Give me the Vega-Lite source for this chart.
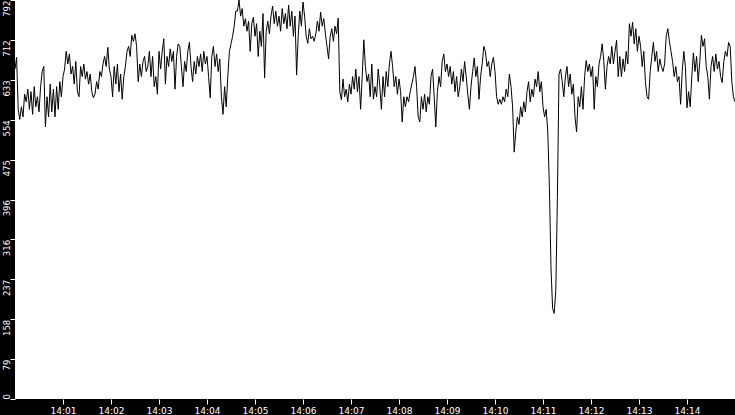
{
"$schema": "https://vega.github.io/schema/vega-lite/v6.json",
"width": 720, "height": 399,
"autosize": {"type": "none"},
"padding": {"left": 15, "top": 0, "right": 0, "bottom": 16},
"background": "black",
"view": {"fill": "white", "stroke": null},
"data": {"format": {"parse": {"t": "date:'%H:%M:%S'"}}, "values": [
{"t":"14:00:00","v":655},{"t":"14:00:02","v":678},{"t":"14:00:04","v":575},{"t":"14:00:06","v":555},{"t":"14:00:08","v":580},{"t":"14:00:10","v":560},{"t":"14:00:12","v":605},{"t":"14:00:14","v":590},{"t":"14:00:16","v":615},{"t":"14:00:18","v":575},{"t":"14:00:20","v":610},{"t":"14:00:22","v":565},{"t":"14:00:24","v":620},{"t":"14:00:26","v":580},{"t":"14:00:28","v":600},{"t":"14:00:30","v":570},{"t":"14:00:32","v":620},{"t":"14:00:34","v":650},{"t":"14:00:36","v":660},{"t":"14:00:38","v":540},{"t":"14:00:40","v":600},{"t":"14:00:42","v":560},{"t":"14:00:44","v":625},{"t":"14:00:46","v":570},{"t":"14:00:48","v":615},{"t":"14:00:50","v":560},{"t":"14:00:52","v":620},{"t":"14:00:54","v":575},{"t":"14:00:56","v":630},{"t":"14:00:58","v":600},
{"t":"14:01:00","v":640},{"t":"14:01:02","v":655},{"t":"14:01:04","v":690},{"t":"14:01:06","v":665},{"t":"14:01:08","v":685},{"t":"14:01:10","v":645},{"t":"14:01:12","v":660},{"t":"14:01:14","v":625},{"t":"14:01:16","v":670},{"t":"14:01:18","v":610},{"t":"14:01:20","v":600},{"t":"14:01:22","v":660},{"t":"14:01:24","v":640},{"t":"14:01:26","v":665},{"t":"14:01:28","v":635},{"t":"14:01:30","v":650},{"t":"14:01:32","v":625},{"t":"14:01:34","v":645},{"t":"14:01:36","v":610},{"t":"14:01:38","v":598},{"t":"14:01:40","v":605},{"t":"14:01:42","v":630},{"t":"14:01:44","v":615},{"t":"14:01:46","v":650},{"t":"14:01:48","v":640},{"t":"14:01:50","v":665},{"t":"14:01:52","v":680},{"t":"14:01:54","v":660},{"t":"14:01:56","v":698},{"t":"14:01:58","v":655},
{"t":"14:02:00","v":640},{"t":"14:02:02","v":600},{"t":"14:02:04","v":660},{"t":"14:02:06","v":625},{"t":"14:02:08","v":665},{"t":"14:02:10","v":610},{"t":"14:02:12","v":645},{"t":"14:02:14","v":595},{"t":"14:02:16","v":640},{"t":"14:02:18","v":660},{"t":"14:02:20","v":690},{"t":"14:02:22","v":700},{"t":"14:02:24","v":680},{"t":"14:02:26","v":722},{"t":"14:02:28","v":710},{"t":"14:02:30","v":725},{"t":"14:02:32","v":700},{"t":"14:02:34","v":630},{"t":"14:02:36","v":665},{"t":"14:02:38","v":640},{"t":"14:02:40","v":670},{"t":"14:02:42","v":680},{"t":"14:02:44","v":650},{"t":"14:02:46","v":660},{"t":"14:02:48","v":690},{"t":"14:02:50","v":640},{"t":"14:02:52","v":680},{"t":"14:02:54","v":620},{"t":"14:02:56","v":640},{"t":"14:02:58","v":605},
{"t":"14:03:00","v":690},{"t":"14:03:02","v":655},{"t":"14:03:04","v":690},{"t":"14:03:06","v":715},{"t":"14:03:08","v":625},{"t":"14:03:10","v":680},{"t":"14:03:12","v":660},{"t":"14:03:14","v":695},{"t":"14:03:16","v":670},{"t":"14:03:18","v":690},{"t":"14:03:20","v":615},{"t":"14:03:22","v":680},{"t":"14:03:24","v":705},{"t":"14:03:26","v":700},{"t":"14:03:28","v":660},{"t":"14:03:30","v":620},{"t":"14:03:32","v":670},{"t":"14:03:34","v":650},{"t":"14:03:36","v":690},{"t":"14:03:38","v":708},{"t":"14:03:40","v":660},{"t":"14:03:42","v":630},{"t":"14:03:44","v":670},{"t":"14:03:46","v":645},{"t":"14:03:48","v":680},{"t":"14:03:50","v":660},{"t":"14:03:52","v":685},{"t":"14:03:54","v":650},{"t":"14:03:56","v":690},{"t":"14:03:58","v":665},
{"t":"14:04:00","v":680},{"t":"14:04:02","v":640},{"t":"14:04:04","v":598},{"t":"14:04:06","v":680},{"t":"14:04:08","v":700},{"t":"14:04:10","v":660},{"t":"14:04:12","v":685},{"t":"14:04:14","v":650},{"t":"14:04:16","v":675},{"t":"14:04:18","v":600},{"t":"14:04:20","v":565},{"t":"14:04:22","v":620},{"t":"14:04:24","v":580},{"t":"14:04:26","v":640},{"t":"14:04:28","v":690},{"t":"14:04:30","v":705},{"t":"14:04:32","v":720},{"t":"14:04:34","v":740},{"t":"14:04:36","v":770},{"t":"14:04:38","v":770},{"t":"14:04:40","v":792},{"t":"14:04:42","v":760},{"t":"14:04:44","v":775},{"t":"14:04:46","v":740},{"t":"14:04:48","v":755},{"t":"14:04:50","v":730},{"t":"14:04:52","v":750},{"t":"14:04:54","v":690},{"t":"14:04:56","v":745},{"t":"14:04:58","v":758},
{"t":"14:05:00","v":720},{"t":"14:05:02","v":745},{"t":"14:05:04","v":680},{"t":"14:05:06","v":730},{"t":"14:05:08","v":700},{"t":"14:05:10","v":765},{"t":"14:05:12","v":637},{"t":"14:05:14","v":730},{"t":"14:05:16","v":750},{"t":"14:05:18","v":725},{"t":"14:05:20","v":760},{"t":"14:05:22","v":780},{"t":"14:05:24","v":745},{"t":"14:05:26","v":770},{"t":"14:05:28","v":740},{"t":"14:05:30","v":760},{"t":"14:05:32","v":730},{"t":"14:05:34","v":775},{"t":"14:05:36","v":745},{"t":"14:05:38","v":765},{"t":"14:05:40","v":735},{"t":"14:05:42","v":782},{"t":"14:05:44","v":740},{"t":"14:05:46","v":770},{"t":"14:05:48","v":720},{"t":"14:05:50","v":760},{"t":"14:05:52","v":643},{"t":"14:05:54","v":720},{"t":"14:05:56","v":770},{"t":"14:05:58","v":740},
{"t":"14:06:00","v":788},{"t":"14:06:02","v":760},{"t":"14:06:04","v":720},{"t":"14:06:06","v":706},{"t":"14:06:08","v":735},{"t":"14:06:10","v":715},{"t":"14:06:12","v":720},{"t":"14:06:14","v":710},{"t":"14:06:16","v":725},{"t":"14:06:18","v":750},{"t":"14:06:20","v":730},{"t":"14:06:22","v":768},{"t":"14:06:24","v":740},{"t":"14:06:26","v":755},{"t":"14:06:28","v":725},{"t":"14:06:30","v":700},{"t":"14:06:32","v":675},{"t":"14:06:34","v":720},{"t":"14:06:36","v":735},{"t":"14:06:38","v":710},{"t":"14:06:40","v":740},{"t":"14:06:42","v":725},{"t":"14:06:44","v":756},{"t":"14:06:46","v":610},{"t":"14:06:48","v":594},{"t":"14:06:50","v":635},{"t":"14:06:52","v":600},{"t":"14:06:54","v":615},{"t":"14:06:56","v":590},{"t":"14:06:58","v":625},
{"t":"14:07:00","v":605},{"t":"14:07:02","v":640},{"t":"14:07:04","v":615},{"t":"14:07:06","v":655},{"t":"14:07:08","v":610},{"t":"14:07:10","v":640},{"t":"14:07:12","v":575},{"t":"14:07:14","v":640},{"t":"14:07:16","v":713},{"t":"14:07:18","v":660},{"t":"14:07:20","v":630},{"t":"14:07:22","v":645},{"t":"14:07:24","v":600},{"t":"14:07:26","v":665},{"t":"14:07:28","v":595},{"t":"14:07:30","v":620},{"t":"14:07:32","v":600},{"t":"14:07:34","v":655},{"t":"14:07:36","v":620},{"t":"14:07:38","v":575},{"t":"14:07:40","v":640},{"t":"14:07:42","v":600},{"t":"14:07:44","v":650},{"t":"14:07:46","v":620},{"t":"14:07:48","v":665},{"t":"14:07:50","v":690},{"t":"14:07:52","v":660},{"t":"14:07:54","v":620},{"t":"14:07:56","v":640},{"t":"14:07:58","v":605},
{"t":"14:08:00","v":635},{"t":"14:08:02","v":610},{"t":"14:08:04","v":550},{"t":"14:08:06","v":600},{"t":"14:08:08","v":580},{"t":"14:08:10","v":600},{"t":"14:08:12","v":590},{"t":"14:08:14","v":610},{"t":"14:08:16","v":625},{"t":"14:08:18","v":640},{"t":"14:08:20","v":660},{"t":"14:08:22","v":620},{"t":"14:08:24","v":560},{"t":"14:08:26","v":550},{"t":"14:08:28","v":600},{"t":"14:08:30","v":575},{"t":"14:08:32","v":605},{"t":"14:08:34","v":570},{"t":"14:08:36","v":600},{"t":"14:08:38","v":585},{"t":"14:08:40","v":640},{"t":"14:08:42","v":655},{"t":"14:08:44","v":600},{"t":"14:08:46","v":540},{"t":"14:08:48","v":610},{"t":"14:08:50","v":640},{"t":"14:08:52","v":620},{"t":"14:08:54","v":670},{"t":"14:08:56","v":685},{"t":"14:08:58","v":650},
{"t":"14:09:00","v":665},{"t":"14:09:02","v":640},{"t":"14:09:04","v":660},{"t":"14:09:06","v":625},{"t":"14:09:08","v":650},{"t":"14:09:10","v":610},{"t":"14:09:12","v":640},{"t":"14:09:14","v":600},{"t":"14:09:16","v":620},{"t":"14:09:18","v":655},{"t":"14:09:20","v":630},{"t":"14:09:22","v":670},{"t":"14:09:24","v":640},{"t":"14:09:26","v":605},{"t":"14:09:28","v":575},{"t":"14:09:30","v":620},{"t":"14:09:32","v":650},{"t":"14:09:34","v":677},{"t":"14:09:36","v":640},{"t":"14:09:38","v":660},{"t":"14:09:40","v":595},{"t":"14:09:42","v":640},{"t":"14:09:44","v":665},{"t":"14:09:46","v":700},{"t":"14:09:48","v":690},{"t":"14:09:50","v":660},{"t":"14:09:52","v":670},{"t":"14:09:54","v":640},{"t":"14:09:56","v":665},{"t":"14:09:58","v":678},
{"t":"14:10:00","v":650},{"t":"14:10:02","v":600},{"t":"14:10:04","v":585},{"t":"14:10:06","v":595},{"t":"14:10:08","v":585},{"t":"14:10:10","v":600},{"t":"14:10:12","v":590},{"t":"14:10:14","v":615},{"t":"14:10:16","v":600},{"t":"14:10:18","v":645},{"t":"14:10:20","v":620},{"t":"14:10:22","v":580},{"t":"14:10:24","v":490},{"t":"14:10:26","v":530},{"t":"14:10:28","v":560},{"t":"14:10:30","v":545},{"t":"14:10:32","v":580},{"t":"14:10:34","v":560},{"t":"14:10:36","v":590},{"t":"14:10:38","v":570},{"t":"14:10:40","v":610},{"t":"14:10:42","v":630},{"t":"14:10:44","v":590},{"t":"14:10:46","v":615},{"t":"14:10:48","v":600},{"t":"14:10:50","v":635},{"t":"14:10:52","v":620},{"t":"14:10:54","v":650},{"t":"14:10:56","v":610},{"t":"14:10:58","v":630},
{"t":"14:11:00","v":580},{"t":"14:11:02","v":560},{"t":"14:11:04","v":575},{"t":"14:11:06","v":530},{"t":"14:11:08","v":420},{"t":"14:11:10","v":260},{"t":"14:11:12","v":180},{"t":"14:11:14","v":170},{"t":"14:11:16","v":215},{"t":"14:11:18","v":400},{"t":"14:11:20","v":645},{"t":"14:11:22","v":655},{"t":"14:11:24","v":630},{"t":"14:11:26","v":600},{"t":"14:11:28","v":640},{"t":"14:11:30","v":660},{"t":"14:11:32","v":620},{"t":"14:11:34","v":645},{"t":"14:11:36","v":605},{"t":"14:11:38","v":625},{"t":"14:11:40","v":560},{"t":"14:11:42","v":530},{"t":"14:11:44","v":600},{"t":"14:11:46","v":580},{"t":"14:11:48","v":620},{"t":"14:11:50","v":575},{"t":"14:11:52","v":640},{"t":"14:11:54","v":672},{"t":"14:11:56","v":650},{"t":"14:11:58","v":665},
{"t":"14:12:00","v":640},{"t":"14:12:02","v":660},{"t":"14:12:04","v":575},{"t":"14:12:06","v":640},{"t":"14:12:08","v":620},{"t":"14:12:10","v":665},{"t":"14:12:12","v":680},{"t":"14:12:14","v":705},{"t":"14:12:16","v":670},{"t":"14:12:18","v":615},{"t":"14:12:20","v":660},{"t":"14:12:22","v":680},{"t":"14:12:24","v":665},{"t":"14:12:26","v":700},{"t":"14:12:28","v":665},{"t":"14:12:30","v":690},{"t":"14:12:32","v":712},{"t":"14:12:34","v":640},{"t":"14:12:36","v":680},{"t":"14:12:38","v":640},{"t":"14:12:40","v":675},{"t":"14:12:42","v":650},{"t":"14:12:44","v":690},{"t":"14:12:46","v":665},{"t":"14:12:48","v":745},{"t":"14:12:50","v":720},{"t":"14:12:52","v":748},{"t":"14:12:54","v":705},{"t":"14:12:56","v":735},{"t":"14:12:58","v":690},
{"t":"14:13:00","v":720},{"t":"14:13:02","v":700},{"t":"14:13:04","v":660},{"t":"14:13:06","v":690},{"t":"14:13:08","v":630},{"t":"14:13:10","v":600},{"t":"14:13:12","v":595},{"t":"14:13:14","v":650},{"t":"14:13:16","v":680},{"t":"14:13:18","v":708},{"t":"14:13:20","v":670},{"t":"14:13:22","v":690},{"t":"14:13:24","v":650},{"t":"14:13:26","v":675},{"t":"14:13:28","v":660},{"t":"14:13:30","v":650},{"t":"14:13:32","v":665},{"t":"14:13:34","v":720},{"t":"14:13:36","v":735},{"t":"14:13:38","v":710},{"t":"14:13:40","v":690},{"t":"14:13:42","v":670},{"t":"14:13:44","v":640},{"t":"14:13:46","v":660},{"t":"14:13:48","v":630},{"t":"14:13:50","v":640},{"t":"14:13:52","v":585},{"t":"14:13:54","v":650},{"t":"14:13:56","v":690},{"t":"14:13:58","v":660},
{"t":"14:14:00","v":578},{"t":"14:14:02","v":610},{"t":"14:14:04","v":580},{"t":"14:14:06","v":640},{"t":"14:14:08","v":687},{"t":"14:14:10","v":650},{"t":"14:14:12","v":680},{"t":"14:14:14","v":630},{"t":"14:14:16","v":670},{"t":"14:14:18","v":722},{"t":"14:14:20","v":700},{"t":"14:14:22","v":715},{"t":"14:14:24","v":660},{"t":"14:14:26","v":640},{"t":"14:14:28","v":595},{"t":"14:14:30","v":660},{"t":"14:14:32","v":680},{"t":"14:14:34","v":650},{"t":"14:14:36","v":685},{"t":"14:14:38","v":655},{"t":"14:14:40","v":670},{"t":"14:14:42","v":640},{"t":"14:14:44","v":628},{"t":"14:14:46","v":670},{"t":"14:14:48","v":690},{"t":"14:14:50","v":680},{"t":"14:14:52","v":708},{"t":"14:14:54","v":700},{"t":"14:14:56","v":630},{"t":"14:14:58","v":600},
{"t":"14:15:00","v":590}
]},
"mark": {"type": "line", "color": "black", "strokeWidth": 1, "clip": true},
"encoding": {
  "x": {"field": "t", "type": "temporal",
    "scale": {"domain": [{"year":1900,"month":1,"date":1,"hours":14,"minutes":0},{"year":1900,"month":1,"date":1,"hours":14,"minutes":15}], "nice": false},
    "axis": {"title": null, "format": "%H:%M",
      "values": [{"year":1900,"month":1,"date":1,"hours":14,"minutes":1},{"year":1900,"month":1,"date":1,"hours":14,"minutes":2},{"year":1900,"month":1,"date":1,"hours":14,"minutes":3},{"year":1900,"month":1,"date":1,"hours":14,"minutes":4},{"year":1900,"month":1,"date":1,"hours":14,"minutes":5},{"year":1900,"month":1,"date":1,"hours":14,"minutes":6},{"year":1900,"month":1,"date":1,"hours":14,"minutes":7},{"year":1900,"month":1,"date":1,"hours":14,"minutes":8},{"year":1900,"month":1,"date":1,"hours":14,"minutes":9},{"year":1900,"month":1,"date":1,"hours":14,"minutes":10},{"year":1900,"month":1,"date":1,"hours":14,"minutes":11},{"year":1900,"month":1,"date":1,"hours":14,"minutes":12},{"year":1900,"month":1,"date":1,"hours":14,"minutes":13},{"year":1900,"month":1,"date":1,"hours":14,"minutes":14}],
      "domain": false, "grid": false, "tickColor": "white", "tickSize": 5, "tickWidth": 1,
      "labelColor": "white", "labelFont": "DejaVu Sans", "labelFontSize": 9, "labelPadding": 2, "labelFlush": false, "labelOverlap": false, "labelAngle": 0}},
  "y": {"field": "v", "type": "quantitative",
    "scale": {"domain": [0, 792], "nice": false, "zero": true},
    "axis": {"title": null, "values": [0, 79.2, 158.4, 237.6, 316.8, 396, 475.2, 554.4, 633.6, 712.8, 792],
      "labelExpr": "floor(datum.value)", "labelAngle": 270,
      "labelAlign": {"condition": {"test": "datum.value == 0", "value": "left"}, "value": "right"},
      "labelBaseline": "alphabetic", "labelPadding": 1,
      "domain": false, "grid": false, "tickColor": "white", "tickSize": 5, "tickWidth": 1,
      "labelColor": "white", "labelFont": "DejaVu Sans Condensed", "labelFontSize": 9.5, "labelFlush": false, "labelOverlap": false}}
}
}
